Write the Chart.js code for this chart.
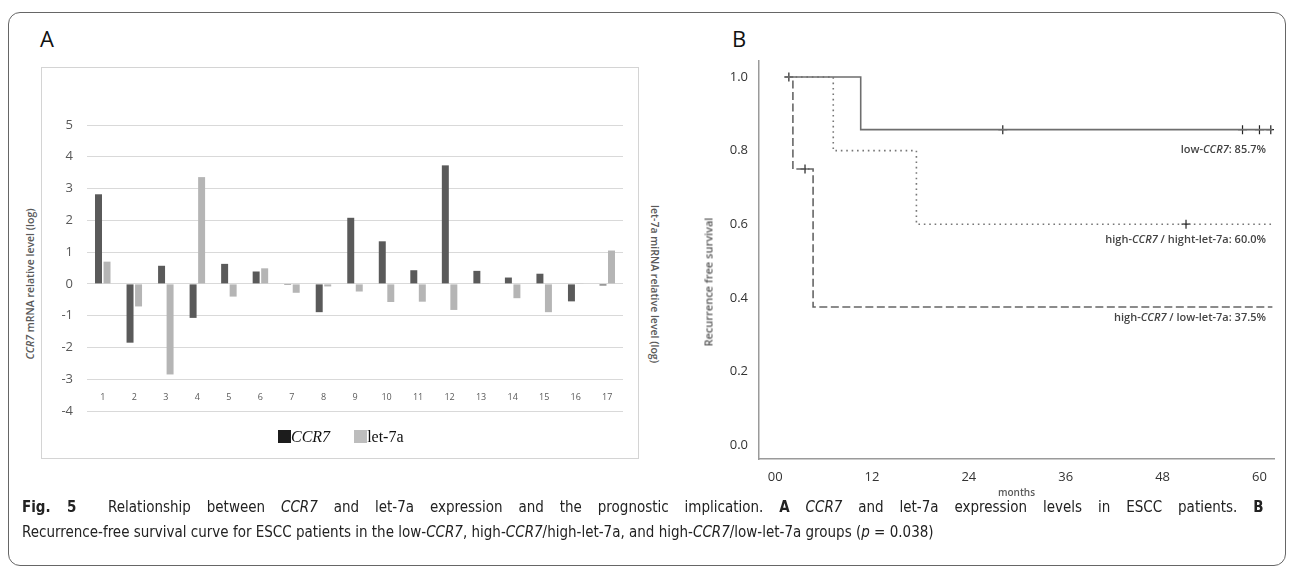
<!DOCTYPE html>
<html>
<head>
<meta charset="utf-8">
<script src="https://cdn.jsdelivr.net/npm/chart.js@4.4.0/dist/chart.umd.min.js"></script>
<style>
  html, body { margin: 0; padding: 0; background: #fff; }
  body { width: 1293px; height: 571px; position: relative; overflow: hidden; font-family: 'Open Sans', sans-serif; }
  .card { position: absolute; left: 8px; top: 12px; width: 1276px; height: 552px; border: 1px solid #666; border-radius: 12px; }
  .panel-letter { position: absolute; font-size: 22px; color: #111; line-height: 1; }
  .excel-box { position: absolute; left: 41px; top: 67px; width: 596px; height: 390px; border: 1px solid #d4d4d4; }
  canvas { position: absolute; }
  .t { position: absolute; white-space: nowrap; transform: translate(-50%, -50%); }
  .rot-l { transform: translate(-50%, -50%) rotate(-90deg); }
  .rot-r { transform: translate(-50%, -50%) rotate(90deg); }
  .axis-title { font-size: 10.5px; font-weight: 600; color: #595959; }
  .legend { position: absolute; left: 278px; top: 428px; font-family: 'Liberation Serif', serif; font-size: 16px; color: #111; white-space: nowrap; }
  .legend .sw { display: inline-block; width: 13px; height: 13px; vertical-align: -1px; }
  .note { position: absolute; white-space: nowrap; transform: translate(-100%, -50%); font-size: 11px; font-weight: 600; color: #444; }
  .caption { position: absolute; left: 22px; top: 494px; width: 1325px; transform: scaleX(0.937); transform-origin: 0 0;
             font-family: 'DejaVu Sans Condensed', 'DejaVu Sans', sans-serif; font-size: 16px; color: #222; line-height: 25px; }
  .caption .l1 { text-align: justify; text-align-last: justify; }
</style>
</head>
<body>
<div class="card"></div>
<div class="panel-letter" style="left:40px; top:27px;">A</div>
<div class="panel-letter" style="left:732px; top:27px;">B</div>

<div class="excel-box"></div>
<canvas id="chartA" width="597" height="391" style="left:41px; top:67px;"></canvas>
<div class="t rot-l axis-title" style="left:30px; top:284px;"><i>CCR7</i> mRNA relative level (log)</div>
<div class="t rot-r axis-title" style="left:655px; top:284px;">let-7a miRNA relative level (log)</div>
<div class="legend"><span class="sw" style="background:#1c1c1c"></span><i>CCR7</i>&nbsp;&nbsp;&nbsp;&nbsp;&nbsp;&nbsp;<span class="sw" style="background:#bdbdbd"></span>let-7a</div>

<canvas id="chartB" width="600" height="500" style="left:690px; top:20px;"></canvas>
<div class="t rot-l axis-title" style="left:708px; top:282px; font-size:11px;">Recurrence free survival</div>
<div class="note" style="left:1266px; top:148px;">low-<i>CCR7</i>: 85.7%</div>
<div class="note" style="left:1266px; top:238px;">high-<i>CCR7</i> / hight-let-7a: 60.0%</div>
<div class="note" style="left:1266px; top:316px;">high-<i>CCR7</i> / low-let-7a: 37.5%</div>

<div class="caption">
  <div class="l1"><b>Fig. 5</b>&nbsp; Relationship between <i>CCR7</i> and let-7a expression and the prognostic implication. <b>A</b> <i>CCR7</i> and let-7a expression levels in ESCC patients. <b>B</b></div>
  <div>Recurrence-free survival curve for ESCC patients in the low-<i>CCR7</i>, high-<i>CCR7</i>/high-let-7a, and high-<i>CCR7</i>/low-let-7a groups (<i>p</i> = 0.038)</div>
</div>

<script>
// panel A: expression levels (log)
const patients = ['1', '2', '3', '4', '5', '6', '7', '8', '9', '10', '11', '12', '13', '14', '15', '16', '17'];
const ccr7Levels = [2.82, -1.85, 0.57, -1.07, 0.63, 0.39, -0.03, -0.89, 2.08, 1.34, 0.43, 3.73, 0.41, 0.20, 0.32, -0.55, -0.05];
const let7aLevels = [0.70, -0.71, -2.85, 3.36, -0.40, 0.49, -0.28, -0.08, -0.24, -0.57, -0.56, -0.82, 0.01, -0.45, -0.89, 0.01, 1.05];
const levelTicks = [-4, -3, -2, -1, 0, 1, 2, 3, 4, 5];

// panel B: Kaplan-Meier steps
const lowCcr7Months = [1.2, 10.6, 61.6];
const lowCcr7Survival = [1, 0.857, 0.857];
const highHighMonths = [1.2, 7.2, 17.5, 61.6];
const highHighSurvival = [1, 0.8, 0.6, 0.6];
const highLowMonths = [1.2, 2.2, 4.7, 61.6];
const highLowSurvival = [1, 0.75, 0.375, 0.375];
const censorMonths = [1.7, 3.7, 28.2, 50.9, 57.9, 60.0, 61.4];
const censorSurvival = [1, 0.75, 0.857, 0.6, 0.857, 0.857, 0.857];
const monthTicks = [0, 12, 24, 36, 48, 60];
const survivalTicks = [0, 0.2, 0.4, 0.6, 0.8, 1.0];

Chart.defaults.font.family = "'Open Sans', sans-serif";
Chart.defaults.animation = false;

const toPoints = (xs, ys) => xs.map((x, i) => ({ x: x, y: ys[i] }));

// excel puts the category labels low, between -3 and -4, so draw them from the x scale
const lowLabels = {
    id: 'lowLabels',
    afterDraw(chart) {
        const ctx = chart.ctx;
        const xScale = chart.scales.x;
        const yScale = chart.scales.y;
        const y = yScale.getPixelForValue(-3.58);
        ctx.save();
        ctx.font = "9px 'Open Sans', sans-serif";
        ctx.fillStyle = '#595959';
        ctx.textAlign = 'center';
        ctx.textBaseline = 'middle';
        patients.forEach((p, i) => ctx.fillText(p, xScale.getPixelForValue(i), y));
        ctx.restore();
    }
};

new Chart(document.getElementById('chartA'), {
    type: 'bar',
    data: {
        labels: patients,
        datasets: [
            { label: 'CCR7', data: ccr7Levels, backgroundColor: '#5a5a5a', categoryPercentage: 0.54, barPercentage: 0.82 },
            { label: 'let-7a', data: let7aLevels, backgroundColor: '#b5b5b5', categoryPercentage: 0.54, barPercentage: 0.82 }
        ]
    },
    options: {
        responsive: false,
        layout: { padding: { top: 58, right: 15, left: 0, bottom: 0 } },
        plugins: { legend: { display: false }, tooltip: { enabled: false } },
        scales: {
            x: {
                grid: { display: false, drawTicks: false },
                border: { display: false },
                ticks: { display: false },
                afterFit: scale => { scale.height = 47; }
            },
            y: {
                min: -4,
                max: 5,
                afterBuildTicks: scale => { scale.ticks = levelTicks.map(v => ({ value: v })); },
                grid: { color: '#d9d9d9', drawTicks: false },
                border: { display: false },
                ticks: { font: { size: 13 }, color: '#595959', padding: 14 },
                afterFit: scale => { scale.width = 46; }
            }
        }
    },
    plugins: [lowLabels]
});

new Chart(document.getElementById('chartB'), {
    type: 'line',
    data: {
        datasets: [
            { data: toPoints(lowCcr7Months, lowCcr7Survival), borderColor: '#6e6e6e', borderWidth: 1.6, stepped: 'before', pointRadius: 0 },
            { data: toPoints(highHighMonths, highHighSurvival), borderColor: '#777', borderWidth: 1.6, borderDash: [1.6, 3.8], stepped: 'before', pointRadius: 0 },
            { data: toPoints(highLowMonths, highLowSurvival), borderColor: '#666', borderWidth: 1.6, borderDash: [8, 3.5], stepped: 'before', pointRadius: 0 },
            { data: toPoints(censorMonths, censorSurvival), showLine: false, pointStyle: 'cross', pointRadius: 4.5, borderColor: '#222', borderWidth: 1.2 }
        ]
    },
    options: {
        responsive: false,
        layout: { padding: { top: 41, right: 16, left: 0, bottom: 0 } },
        plugins: { legend: { display: false }, tooltip: { enabled: false } },
        scales: {
            x: {
                type: 'linear',
                min: -2,
                max: 61.8,
                afterBuildTicks: scale => { scale.ticks = monthTicks.map(v => ({ value: v })); },
                grid: { display: false, drawTicks: false },
                border: { color: '#9a9a9a', width: 1.5 },
                ticks: { font: { size: 13 }, color: '#333', padding: 10, callback: v => String(v).padStart(2, '0') },
                title: { display: true, text: 'months', font: { size: 10, weight: '600' }, color: '#595959', padding: { top: 0, bottom: 21 } },
                afterFit: scale => { scale.height = 61; }
            },
            y: {
                min: -0.038,
                max: 1.0435,
                afterBuildTicks: scale => { scale.ticks = survivalTicks.map(v => ({ value: v })); },
                grid: { display: false, drawTicks: false },
                border: { color: '#9a9a9a', width: 1.5 },
                ticks: { font: { size: 13 }, color: '#333', padding: 11, callback: v => v.toFixed(1) },
                afterFit: scale => { scale.width = 69; }
            }
        }
    }
});
</script>
</body>
</html>
